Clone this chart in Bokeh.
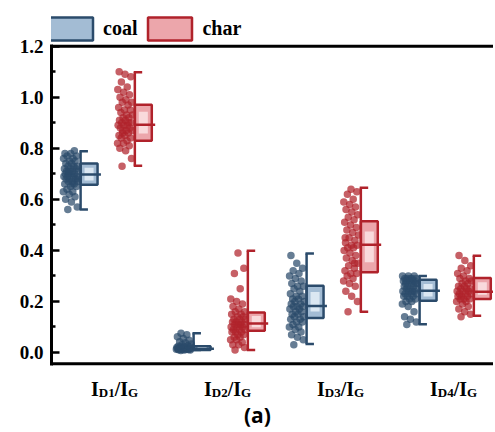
from bokeh.plotting import figure
from bokeh.models import (Range1d, FixedTicker, NumeralTickFormatter, Label, Legend, LegendItem)
from bokeh.embed import file_html
from bokeh.resources import INLINE

# ---------------- data ----------------
categories = ["D1", "D2", "D3", "D4"]
positions = [1, 2, 3, 4]

coal_d1 = [0.56, 0.57, 0.59, 0.60, 0.61, 0.62, 0.63, 0.63, 0.64, 0.65, 0.65, 0.66, 0.66, 0.67, 0.67,
           0.67, 0.68, 0.68, 0.68, 0.69, 0.69, 0.69, 0.69, 0.70, 0.70, 0.70, 0.70, 0.71, 0.71, 0.71,
           0.72, 0.72, 0.72, 0.73, 0.73, 0.73, 0.74, 0.74, 0.75, 0.75, 0.76, 0.76, 0.77, 0.77, 0.78,
           0.78, 0.79, 0.71, 0.68, 0.66]
char_d1 = [0.73, 0.76, 0.79, 0.80, 0.81, 0.82, 0.82, 0.83, 0.84, 0.84, 0.85, 0.85, 0.86, 0.86, 0.87,
           0.87, 0.88, 0.88, 0.89, 0.89, 0.89, 0.90, 0.90, 0.91, 0.91, 0.92, 0.92, 0.93, 0.93, 0.94,
           0.95, 0.95, 0.96, 0.97, 0.98, 0.98, 0.99, 1.00, 1.01, 1.02, 1.03, 1.04, 1.06, 1.08, 1.09,
           1.10, 0.90, 0.87]
coal_d2 = [0.008, 0.010, 0.010, 0.011, 0.012, 0.012, 0.013, 0.013, 0.014, 0.014, 0.015, 0.015, 0.015,
           0.016, 0.016, 0.017, 0.018, 0.018, 0.019, 0.020, 0.021, 0.022, 0.023, 0.024, 0.025, 0.027,
           0.030, 0.033, 0.038, 0.042, 0.048, 0.055, 0.062, 0.070, 0.075]
char_d2 = [0.01, 0.02, 0.03, 0.03, 0.04, 0.05, 0.05, 0.06, 0.06, 0.07, 0.07, 0.08, 0.08, 0.08, 0.09,
           0.09, 0.09, 0.10, 0.10, 0.10, 0.11, 0.11, 0.11, 0.11, 0.12, 0.12, 0.12, 0.13, 0.13, 0.13,
           0.14, 0.14, 0.15, 0.15, 0.16, 0.16, 0.17, 0.18, 0.19, 0.20, 0.21, 0.25, 0.31, 0.33, 0.39]
coal_d3 = [0.03, 0.05, 0.06, 0.07, 0.08, 0.09, 0.10, 0.10, 0.11, 0.12, 0.12, 0.13, 0.13, 0.14, 0.14,
           0.15, 0.15, 0.16, 0.16, 0.17, 0.17, 0.18, 0.18, 0.18, 0.19, 0.19, 0.20, 0.20, 0.21, 0.21,
           0.22, 0.22, 0.23, 0.24, 0.25, 0.26, 0.26, 0.27, 0.28, 0.29, 0.30, 0.31, 0.32, 0.33, 0.35, 0.38]
char_d3 = [0.16, 0.20, 0.22, 0.24, 0.26, 0.27, 0.28, 0.29, 0.30, 0.31, 0.31, 0.32, 0.33, 0.34, 0.35,
           0.36, 0.37, 0.38, 0.39, 0.40, 0.41, 0.41, 0.42, 0.42, 0.43, 0.44, 0.45, 0.46, 0.47, 0.48,
           0.49, 0.50, 0.51, 0.52, 0.53, 0.54, 0.55, 0.56, 0.57, 0.58, 0.59, 0.60, 0.62, 0.63, 0.64,
           0.45, 0.35]
coal_d4 = [0.11, 0.12, 0.13, 0.14, 0.16, 0.18, 0.19, 0.20, 0.20, 0.21, 0.21, 0.22, 0.22, 0.22, 0.23,
           0.23, 0.23, 0.24, 0.24, 0.24, 0.24, 0.25, 0.25, 0.25, 0.26, 0.26, 0.26, 0.27, 0.27, 0.27,
           0.28, 0.28, 0.28, 0.28, 0.29, 0.29, 0.29, 0.29, 0.30, 0.30, 0.30, 0.29, 0.28, 0.27]
char_d4 = [0.14, 0.15, 0.16, 0.17, 0.18, 0.19, 0.20, 0.20, 0.21, 0.21, 0.21, 0.22, 0.22, 0.22, 0.23,
           0.23, 0.23, 0.24, 0.24, 0.24, 0.25, 0.25, 0.25, 0.26, 0.26, 0.27, 0.27, 0.28, 0.28, 0.29,
           0.29, 0.30, 0.31, 0.32, 0.33, 0.34, 0.36, 0.38]

coal_points = [coal_d1, coal_d2, coal_d3, coal_d4]
char_points = [char_d1, char_d2, char_d3, char_d4]

# box statistics
coal_lo = [0.560, 0.010, 0.033, 0.111]
coal_q1 = [0.657, 0.010, 0.135, 0.203]
coal_med = [0.697, 0.015, 0.182, 0.242]
coal_q3 = [0.740, 0.025, 0.262, 0.285]
coal_hi = [0.788, 0.075, 0.388, 0.300]

char_lo = [0.732, 0.010, 0.160, 0.144]
char_q1 = [0.830, 0.085, 0.314, 0.210]
char_med = [0.892, 0.114, 0.422, 0.238]
char_q3 = [0.971, 0.157, 0.514, 0.292]
char_hi = [1.098, 0.399, 0.645, 0.379]

y_ticks = [0.0, 0.2, 0.4, 0.6, 0.8, 1.0, 1.2]
y_minor_ticks = [0.1, 0.3, 0.5, 0.7, 0.9, 1.1]
y_axis_min = -0.044
y_axis_max = 1.2

# ---------------- style ----------------
SERIF = "Liberation Serif"
COAL_DARK = "#2b4b6b"
COAL_MID = "#a3bcd4"
COAL_LIGHT = "#dbe7f2"
CHAR_DARK = "#b0222b"
CHAR_MID = "#eca6ab"
CHAR_LIGHT = "#f9dadc"

BOX_W = 0.15
COAL_OFF = -0.30
CHAR_OFF = 0.18

X0, X1 = 0.4425, 4.354
W, H = 493, 430

p = figure(width=W, height=H, x_range=Range1d(X0, X1), y_range=Range1d(-0.3055, 1.379),
           output_backend="svg", toolbar_location=None, x_axis_location=None,
           min_border_left=51, min_border_right=0, min_border_top=0, min_border_bottom=0)
p.grid.visible = False
p.outline_line_color = None
p.background_fill_color = "white"


def draw_group(points, lo, q1, med, q3, hi, off, dark, mid, light):
    xs, ys = [], []
    for i, c in enumerate(positions):
        left = c + off
        for k, v in enumerate(points[i]):
            f = (k * 0.6180339887 + 0.31) % 1.0
            xs.append(left - 0.155 + 0.135 * f)
            ys.append(v)
    p.scatter(xs, ys, size=7.5, fill_color=dark, fill_alpha=0.72, line_color=None)

    lefts = [c + off for c in positions]
    rights = [c + off + BOX_W for c in positions]
    box = p.quad(left=lefts, right=rights, bottom=q1, top=q3,
                 fill_color=mid, line_color=dark, line_width=2.5)
    h = [t - b for t, b in zip(q3, q1)]
    p.quad(left=[l + 0.035 for l in lefts], right=[r - 0.035 for r in rights],
           bottom=[b + 0.2 * d for b, d in zip(q1, h)], top=[t - 0.2 * d for t, d in zip(q3, h)],
           fill_color=light, line_color=None)
    p.segment(x0=lefts, y0=lo, x1=lefts, y1=hi, line_color=dark, line_width=2.5)
    p.segment(x0=[l - 0.01 for l in lefts], y0=lo, x1=[l + 0.065 for l in lefts], y1=lo,
              line_color=dark, line_width=2.5)
    p.segment(x0=[l - 0.01 for l in lefts], y0=hi, x1=[l + 0.065 for l in lefts], y1=hi,
              line_color=dark, line_width=2.5)
    p.segment(x0=lefts, y0=med, x1=[r + 0.03 for r in rights], y1=med,
              line_color=dark, line_width=2.5)
    return box


coal_box = draw_group(coal_points, coal_lo, coal_q1, coal_med, coal_q3, coal_hi,
                      COAL_OFF, COAL_DARK, COAL_MID, COAL_LIGHT)
char_box = draw_group(char_points, char_lo, char_q1, char_med, char_q3, char_hi,
                      CHAR_OFF, CHAR_DARK, CHAR_MID, CHAR_LIGHT)

# bottom and top spines
p.segment(x0=[X0, X0], y0=[y_axis_min, y_axis_max], x1=[X1, X1], y1=[y_axis_min, y_axis_max],
          line_color="black", line_width=3)

# ---------------- y axis ----------------
yax = p.yaxis[0]
yax.bounds = (y_axis_min - 0.006, y_axis_max + 0.006)
yax.ticker = FixedTicker(ticks=y_ticks, minor_ticks=y_minor_ticks)
yax.formatter = NumeralTickFormatter(format="0.0")
yax.axis_line_width = 3
yax.major_tick_in = 8
yax.major_tick_out = 0
yax.minor_tick_in = 4
yax.minor_tick_out = 0
yax.major_tick_line_width = 2.5
yax.minor_tick_line_width = 2.5
yax.major_label_text_font = SERIF
yax.major_label_text_font_style = "bold"
yax.major_label_text_font_size = "19px"
yax.major_label_text_color = "black"
yax.major_label_standoff = 8

# category labels I_Dn / I_G
sub_names = ["D1", "D2", "D3", "D4"]
y_base = -0.142
y_sub = -0.158
for c, s in zip(positions, sub_names):
    parts = [("I", -23.5, y_base, "20px"), (s, -15.7, y_sub, "13px"),
             ("/I", 0.2, y_base, "20px"), ("G", 13.5, y_sub, "13px")]
    for txt, dx, yy, fs in parts:
        p.add_layout(Label(x=c, y=yy, x_offset=dx, text=txt, text_font=SERIF,
                           text_font_style="bold", text_font_size=fs, text_color="black",
                           text_align="left", text_baseline="alphabetic"))

p.add_layout(Label(x=2.265, y=-0.243, text="(a)", text_font="Open Sans", text_font_style="bold",
                   text_font_size="21px", text_color="black", text_align="center",
                   text_baseline="alphabetic"))

# ---------------- legend ----------------
legend = Legend(items=[LegendItem(label="coal", renderers=[coal_box]),
                       LegendItem(label="char", renderers=[char_box])],
                orientation="horizontal", location=(-8, 387),
                glyph_width=55, glyph_height=29, label_standoff=5, spacing=5,
                padding=0, margin=0, border_line_color=None, background_fill_alpha=0,
                label_text_font=SERIF, label_text_font_style="bold",
                label_text_font_size="20px", label_text_color="black")
p.add_layout(legend, "center")

open("out.html", "w").write(file_html(p, INLINE))
